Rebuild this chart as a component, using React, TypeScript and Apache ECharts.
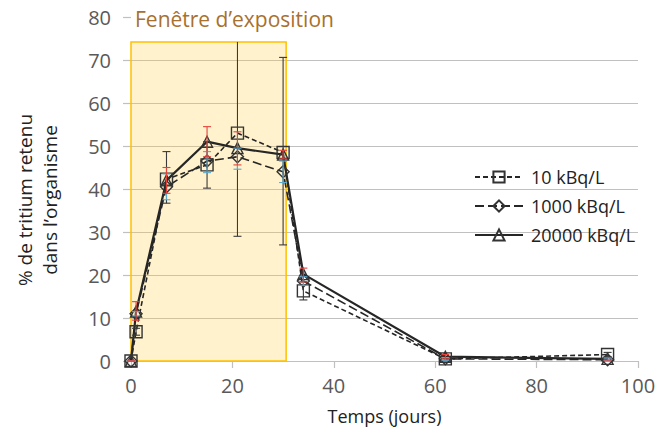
import React, { useEffect, useRef } from "react";
import * as echarts from "echarts";

const days = [0, 1, 7, 15, 21, 30, 34, 62, 94];

const s10 = [0, 6.8, 42.3, 45.6, 53, 48.5, 16.3, 0.5, 1.5];
const s10Low = [0, 6, 36.7, 40.2, 29, 27, 14.2, 0.2, 1];
const s10High = [0, 7.6, 48.7, 51, 74.2, 70.6, 18.4, 0.8, 2];

const s1000 = [0, 11, 40.5, 46.5, 47.5, 44, 18.6, 0.5, 0.3];
const s1000Low = [0, 10.5, 37.5, 43.8, 44.6, 41.5, 17.6, 0.2, 0.1];
const s1000High = [0, 11.5, 43.5, 48.7, 49.5, 46.5, 19.6, 0.8, 0.5];

const s20000 = [0, 11.5, 42, 51, 49.5, 48, 20.2, 1, 0.5];
const s20000Low = [0, 9.5, 39, 47.5, 45.6, 47, 18.4, 0.5, 0.2];
const s20000High = [0, 13.8, 45, 54.5, 53.3, 49, 21.6, 1.5, 0.8];

const seriesNames = ["10 kBq/L", "1000 kBq/L", "20000 kBq/L"];
const exposureWindow = [0, 30.6];
const exposureTop = 74.2;
const windowTitle = "Fenêtre d’exposition";
const yTitle = "% de tritium retenu\ndans l’organisme";
const xTitle = "Temps (jours)";

const FONT = "Open Sans";

function errorSeries(name: string, low: number[], high: number[], color: string) {
  return {
    type: "custom",
    name,
    z: 4,
    silent: true,
    renderItem: (params: any, api: any) => {
      const x = api.value(0);
      const lo = api.value(1);
      const hi = api.value(2);
      const pLo = api.coord([x, lo]);
      const pHi = api.coord([x, hi]);
      const cw = 4;
      const style = { stroke: color, lineWidth: 1.1 };
      const children: any[] = [
        { type: "line", shape: { x1: pLo[0], y1: pLo[1], x2: pHi[0], y2: pHi[1] }, style },
        { type: "line", shape: { x1: pLo[0] - cw, y1: pLo[1], x2: pLo[0] + cw, y2: pLo[1] }, style },
      ];
      if (hi < exposureTop) {
        children.push({ type: "line", shape: { x1: pHi[0] - cw, y1: pHi[1], x2: pHi[0] + cw, y2: pHi[1] }, style });
      }
      return { type: "group", children };
    },
    data: days.map((d, i) => [d, low[i], high[i]]),
  };
}

function lineSeries(name: string, values: number[], symbol: string, size: number, lineType: any, width: number) {
  return {
    type: "line",
    name,
    data: days.map((d, i) => [d, values[i]]),
    symbol,
    symbolSize: size,
    showAllSymbol: true,
    z: 3,
    lineStyle: { color: "#262626", width, type: lineType },
    itemStyle: { color: "rgba(255,255,255,0)", borderColor: "#333333", borderWidth: 1.4 },
  };
}

export default function App() {
  const ref = useRef<HTMLDivElement>(null);
  useEffect(() => {
    if (!ref.current) return;
    const chart = echarts.init(ref.current, null, { renderer: "svg" });
    const grey = "#c0c0c0";
    chart.setOption({
      animation: false,
      grid: { left: 131, right: 21, top: 17, bottom: 72 },
      textStyle: { fontFamily: FONT },
      xAxis: {
        type: "value",
        min: 0,
        max: 100,
        interval: 20,
        name: xTitle,
        nameLocation: "middle",
        nameGap: 46,
        nameTextStyle: { fontSize: 18, color: "#222", fontFamily: FONT },
        axisLine: { show: true, lineStyle: { color: grey, width: 1.2 } },
        axisTick: { show: true, length: 7, lineStyle: { color: grey, width: 1.2 } },
        axisLabel: { fontSize: 20, color: "#595959", margin: 14, fontFamily: FONT },
        splitLine: { show: false },
      },
      yAxis: {
        type: "value",
        min: 0,
        max: 80,
        interval: 10,
        axisLine: { show: false },
        axisTick: { show: true, length: 8, lineStyle: { color: grey, width: 1.2 } },
        axisLabel: { fontSize: 20, color: "#595959", margin: 20, fontFamily: FONT },
        splitLine: {
          show: true,
          lineStyle: {
            color: [grey, grey, grey, grey, grey, grey, grey, grey, "rgba(0,0,0,0)"],
            width: 1.2,
          },
        },
      },
      legend: {
        orient: "vertical",
        left: 469,
        top: 163,
        itemWidth: 48,
        itemHeight: 14,
        itemGap: 11,
        data: seriesNames,
        textStyle: { fontSize: 18, color: "#222", fontFamily: FONT, padding: [0, 0, 0, 3] },
      },
      graphic: [
        {
          type: "text",
          left: 135,
          top: 8,
          style: { text: windowTitle, fontSize: 21, fill: "#a8702e", fontFamily: FONT },
        },
        {
          type: "text",
          x: 37,
          y: 200,
          rotation: Math.PI / 2,
          style: {
            text: yTitle,
            fontSize: 19,
            lineHeight: 25,
            fill: "#222",
            fontFamily: FONT,
            align: "center",
            verticalAlign: "middle",
          },
        },
      ],
      series: [
        {
          type: "line",
          name: "window",
          data: [],
          z: 1,
          markArea: {
            silent: true,
            itemStyle: {
              color: "rgba(255,204,51,0.25)",
              borderColor: "#ffc000",
              borderWidth: 1.5,
            },
            data: [[{ coord: [exposureWindow[0], 0] }, { coord: [exposureWindow[1], exposureTop] }]],
          },
        },
        lineSeries(seriesNames[0], s10, "rect", 12, [5, 3], 1.6),
        lineSeries(seriesNames[1], s1000, "diamond", 12, [9, 4], 1.6),
        lineSeries(seriesNames[2], s20000, "triangle", 11, "solid", 2.2),
        errorSeries("err10", s10Low, s10High, "#3a3a3a"),
        errorSeries("err1000", s1000Low, s1000High, "#5aaad2"),
        errorSeries("err20000", s20000Low, s20000High, "#e5423a"),
      ],
    });
    return () => chart.dispose();
  }, []);
  return (
    <div
      ref={ref}
      style={{ position: "absolute", left: 0, top: 0, width: 659, height: 433 }}
    />
  );
}
